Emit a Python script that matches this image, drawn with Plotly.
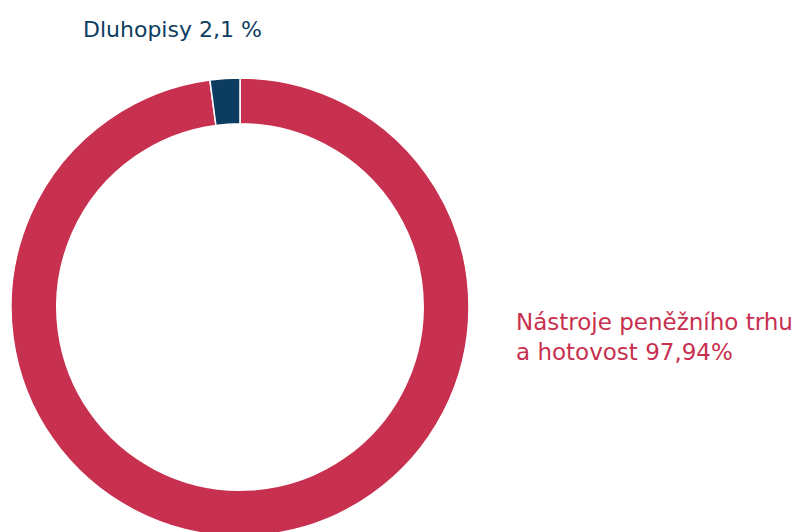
import plotly.graph_objects as go

labels = ["Nástroje peněžního trhu a hotovost", "Dluhopisy"]
values = [97.94, 2.1]
label_texts = ["Nástroje peněžního trhu<br>a hotovost 97,94%", "Dluhopisy 2,1 %"]
colors = ["#C8304F", "#0D3C61"]

W, H = 806, 532
# page has an 8px body margin: plot pixel p shows at page pixel p+8
cx, cy, R = 232, 299, 229

fig = go.Figure(go.Pie(
    labels=labels, values=values, sort=False, direction="clockwise",
    rotation=0, hole=0.80, textinfo="none", hoverinfo="label+value",
    marker=dict(colors=colors, line=dict(color="white", width=1.5)),
    domain=dict(x=[(cx - R) / W, (cx + R) / W], y=[1 - (cy + R) / H, 1 - (cy - R) / H]),
    showlegend=False,
))

fig.add_annotation(x=73 / W, y=1 - 22 / H, xref="paper", yref="paper",
                   xanchor="left", yanchor="middle", showarrow=False,
                   text=label_texts[1], font=dict(size=22, color=colors[1], family="DejaVu Sans"))
fig.add_annotation(x=506 / W, y=1 - 329 / H, xref="paper", yref="paper",
                   xanchor="left", yanchor="middle", showarrow=False, align="left",
                   text=label_texts[0], font=dict(size=23, color=colors[0], family="DejaVu Sans"))

fig.update_layout(width=W, height=H, margin=dict(l=0, r=0, t=0, b=0),
                  paper_bgcolor="white", plot_bgcolor="white")
fig.write_html("out.html")
